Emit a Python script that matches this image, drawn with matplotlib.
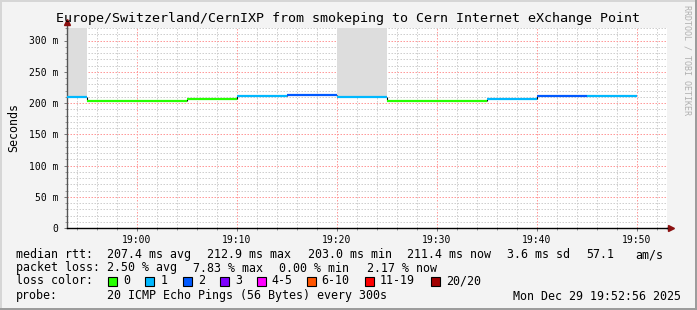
import datetime as dt
import matplotlib
matplotlib.use('Agg')
import matplotlib.pyplot as plt
import matplotlib.dates as mdates
from matplotlib.patches import Rectangle
from matplotlib.ticker import MultipleLocator, FuncFormatter

# 5 minute steps (start time), median rtt in ms, lost pings out of 20
step_start = ['18:50', '18:55', '19:00', '19:05', '19:10', '19:15',
              '19:20', '19:25', '19:30', '19:35', '19:40', '19:45']
median_ms = [209.0, 203.0, 203.0, 206.5, 210.5, 212.9,
             209.0, 203.5, 203.5, 206.5, 211.0, 211.4]
lost = [1, 0, 0, 0, 1, 2, 1, 0, 0, 1, 2, 1]
# steps where the smoke goes off the top of the graph
smoke_max = [400, None, None, None, None, None,
             400, None, None, None, None, None]

loss_labels = ['0', '1', '2', '3', '4-5', '6-10', '11-19', '20/20']
loss_colors = ['#26ff00', '#00b8ff', '#0059ff', '#7e00ff',
               '#ff00ff', '#ff5500', '#ff0000', '#a10000']

title = 'Europe/Switzerland/CernIXP from smokeping to Cern Internet eXchange Point'
rtt_stats = ['median rtt:', '207.4 ms avg', '212.9 ms max', '203.0 ms min',
             '211.4 ms now', '3.6 ms sd', '57.1', 'am/s']
loss_stats = ['packet loss:', '2.50 % avg', '7.83 % max', '0.00 % min', '2.17 % now']
probe_text = '20 ICMP Echo Pings (56 Bytes) every 300s'
stamp = 'Mon Dec 29 19:52:56 2025'

day = dt.date(2025, 12, 29)
def t(s):
    h, m = s.split(':')
    return dt.datetime(day.year, day.month, day.day, int(h), int(m))

W, H = 697, 310
mono = 'DejaVu Sans Mono'
plt.rcParams['font.family'] = mono

fig = plt.figure(figsize=(W / 100, H / 100), dpi=100, facecolor='#f3f3f3')
ax = fig.add_axes([66.5 / W, 82 / H, 600 / W, 200 / H])
ax.set_facecolor('white')

x0, x1 = t('18:53'), t('19:53')
step = dt.timedelta(minutes=5)

# smoke
for s, top, med in zip(step_start, smoke_max, median_ms):
    if top is not None:
        a = max(t(s), x0)
        ax.fill_between([a, t(s) + step], med, top, color='#dddddd', lw=0, zorder=1)

# black step connectors
for i in range(1, len(median_ms)):
    if median_ms[i] != median_ms[i - 1]:
        ax.vlines(t(step_start[i]), median_ms[i - 1], median_ms[i],
                  color='black', lw=0.8, zorder=3)

# median line coloured by loss
for s, med, l in zip(step_start, median_ms, lost):
    a = max(t(s), x0)
    ax.hlines(med, a, t(s) + step, color=loss_colors[l], lw=1.6, zorder=4)

ax.set_xlim(x0, x1)
ax.set_ylim(0, 320)

ax.xaxis.set_major_locator(mdates.MinuteLocator(byminute=range(0, 60, 10)))
ax.xaxis.set_minor_locator(mdates.MinuteLocator(byminute=range(0, 60, 2)))
ax.xaxis.set_major_formatter(mdates.DateFormatter('%H:%M'))
ax.yaxis.set_major_locator(MultipleLocator(50))
ax.yaxis.set_minor_locator(MultipleLocator(10))
ax.yaxis.set_major_formatter(FuncFormatter(lambda v, p: '0' if v == 0 else f'{v:g} m'))

ax.grid(which='minor', color='#cfcfcf', lw=0.72, dashes=(1.5, 1.5), zorder=0)
ax.grid(which='major', color='#ff9a9a', lw=0.72, dashes=(1.5, 1.5), zorder=0)
ax.set_axisbelow(True)

ax.tick_params(which='major', length=2.5, width=0.7, color='#777777',
               labelsize=7, pad=2.5)
ax.tick_params(axis='y', which='major', pad=3.5)
ax.tick_params(which='minor', length=1.5, width=0.7, color='#999999')

for sp in ['top', 'right']:
    ax.spines[sp].set_visible(False)
ax.spines['left'].set_color('#555555')
ax.spines['left'].set_linewidth(1.0)
ax.spines['bottom'].set_color('black')
ax.spines['bottom'].set_linewidth(1.0)

# axis arrows
ax.plot([1.0, 1.005], [0, 0], color='black', lw=1.0, transform=ax.transAxes, clip_on=False)
ax.plot(1.008, 0, marker='>', ms=4.5, color='#8b1010', transform=ax.transAxes, clip_on=False)
ax.plot([0, 0], [1.0, 1.015], color='#555555', lw=1.0, transform=ax.transAxes, clip_on=False)
ax.plot(0, 1.03, marker='^', ms=4.5, color='#8b1010', transform=ax.transAxes, clip_on=False)

ax.set_ylabel('Seconds', fontsize=8.4, labelpad=10)
ax.yaxis.set_label_coords(-46 / 600, 0.5)

fig.text(0.5, 1 - 18.5 / H, title, ha='center', va='center', fontsize=9.6)
fig.text(687 / W, 1 - 60 / H, 'RRDTOOL / TOBI OETIKER', rotation=270,
         ha='center', va='center', fontsize=6, color='#b0b0b0')

def px(x, y, s, **kw):
    fig.text(x / W, 1 - y / H, s, va='center', fontsize=8.4, **kw)

rtt_x = [16, 107.3, 207.3, 307.5, 407.3, 507.3, 586, 635]
for x, s in zip(rtt_x, rtt_stats):
    px(x, 254.5, s)
loss_x = [16, 107.3, 193.3, 279.3, 366.5]
for x, s in zip(loss_x, loss_stats):
    px(x, 268, s)
px(16, 281, 'loss color:')
box_x = [108.3, 145.3, 182.7, 220, 256.7, 306.7, 365, 430.7]
for bx, lab, col in zip(box_x, loss_labels, loss_colors):
    fig.patches.append(Rectangle((bx / W, 1 - 286 / H), 9 / W, 9 / H,
                                 transform=fig.transFigure, facecolor=col,
                                 edgecolor='black', lw=0.8))
    px(bx + 15, 281, lab)
px(16, 296, 'probe:')
px(107.3, 296, probe_text)
px(512.7, 296, stamp)

# bevelled frame
fig.patches.append(Rectangle((0, 0), 1, 2 / H, transform=fig.transFigure, color='#9c9c9c', lw=0))
fig.patches.append(Rectangle((1 - 2 / W, 0), 2 / W, 1, transform=fig.transFigure, color='#9c9c9c', lw=0))
fig.patches.append(Rectangle((0, 1 - 2 / H), 1 - 2 / W, 2 / H, transform=fig.transFigure, color='#d6d6d6', lw=0))
fig.patches.append(Rectangle((0, 2 / H), 2 / W, 1 - 4 / H, transform=fig.transFigure, color='#d6d6d6', lw=0))

fig.savefig('out.png', dpi=100, facecolor=fig.get_facecolor())
